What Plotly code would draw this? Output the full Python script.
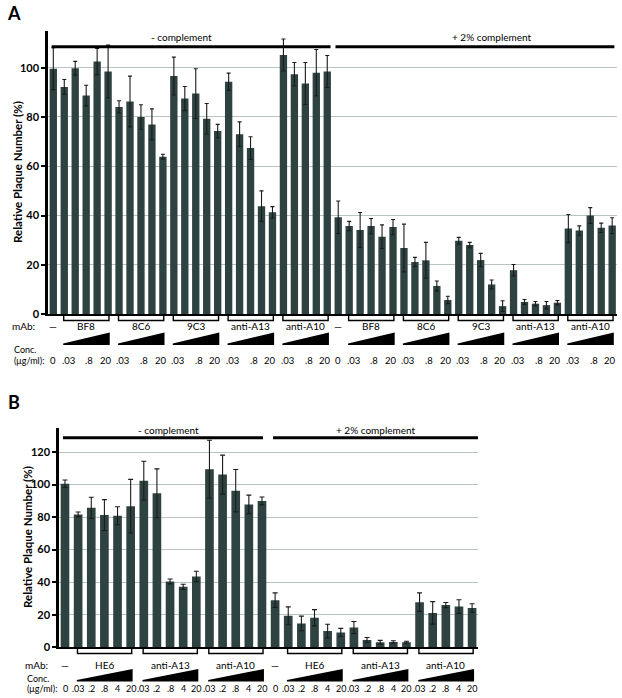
import plotly.graph_objects as go

W, H = 622, 698

# ---------------- data ----------------
# Panel A: control + 5 antibodies x 5 concentrations, without / with complement
A_groups = ["BF8", "8C6", "9C3", "anti-A13", "anti-A10"]
A_conc_labels = [".03", ".8", "20"]          # shown under 1st, 3rd, 5th bar
A_minus = [99.6, 92.2, 99.8, 88.7, 102.5, 98.5,
           84.1, 86.3, 80.0, 77.0, 63.9,
           96.6, 87.5, 89.5, 79.3, 74.3,
           94.3, 73.0, 67.4, 43.8, 41.3,
           105.2, 97.4, 93.6, 98.0, 98.5]
A_minus_err = [8.5, 3.0, 2.8, 4.2, 5.3, 10.7,
               2.5, 10.3, 5.0, 6.3, 1.0,
               7.7, 4.9, 10.1, 6.2, 2.7,
               3.5, 5.0, 4.6, 6.2, 2.3,
               6.5, 4.7, 8.5, 9.4, 6.5]
A_plus = [39.3, 35.7, 34.1, 35.7, 31.4, 35.3,
          26.8, 21.1, 21.8, 11.4, 5.7,
          29.7, 28.0, 21.9, 12.0, 3.2,
          17.8, 4.9, 4.2, 3.6, 4.6,
          34.7, 33.9, 40.0, 35.0, 35.9]
A_plus_err = [6.6, 1.9, 7.1, 3.1, 4.8, 3.1,
              9.7, 1.9, 7.3, 2.0, 1.5,
              1.4, 1.1, 2.7, 1.8, 2.2,
              2.3, 1.0, 0.9, 1.5, 0.9,
              5.7, 1.9, 3.2, 1.9, 3.2]
A_yticks = [0, 20, 40, 60, 80, 100]

# Panel B
B_groups = ["HE6", "anti-A13", "anti-A10"]
B_conc_labels = [".03", ".2", ".8", "4", "20"]
B_minus = [100.5, 81.6, 85.7, 81.2, 80.8, 86.7,
           102.3, 94.6, 40.4, 37.1, 43.5,
           109.4, 106.1, 96.2, 87.8, 89.9]
B_minus_err = [2.3, 1.5, 6.5, 9.5, 5.5, 16.5,
               12.0, 15.0, 1.5, 1.6, 3.2,
               17.8, 12.0, 13.0, 5.7, 2.4]
B_plus = [28.9, 19.3, 14.6, 18.1, 9.9, 9.1,
          12.1, 4.5, 3.0, 3.2, 3.1,
          27.7, 21.1, 25.9, 25.0, 24.1]
B_plus_err = [4.5, 5.5, 4.5, 5.0, 4.2, 2.5,
              3.7, 1.5, 1.2, 0.8, 0.6,
              5.7, 6.9, 1.6, 4.2, 2.6]
B_yticks = [0, 20, 40, 60, 80, 100, 120]

cond_labels = ["- complement", "+ 2% complement"]
control_label = "\u2014"
conc_zero = "0"
ytitle = "Relative Plaque Number (%)"

# ---------------- style ----------------
FONT = "Lato"
BAR = "#2e4341"
ERR = "#1b1b1b"
GRID = "#b9c4c0"


def py(p):
    return 1 - p / H


def px(p):
    return p / W


fig = go.Figure()

A_y = A_minus + A_plus
A_e = A_minus_err + A_plus_err
fig.add_trace(go.Bar(
    x=list(range(len(A_y))), y=A_y,
    error_y=dict(type="data", array=A_e, color=ERR, thickness=1.1, width=2),
    marker=dict(color=BAR, line=dict(width=0)), width=0.67,
    xaxis="x", yaxis="y", showlegend=False, hoverinfo="skip"))

B_y = B_minus + B_plus
B_e = B_minus_err + B_plus_err
fig.add_trace(go.Bar(
    x=list(range(len(B_y))), y=B_y,
    error_y=dict(type="data", array=B_e, color=ERR, thickness=1.1, width=2.5),
    marker=dict(color=BAR, line=dict(width=0)), width=0.66,
    xaxis="x2", yaxis="y2", showlegend=False, hoverinfo="skip"))

# panel geometry (pixels)
PA = dict(x0=48, x1=617, y0=314, ytop=30.8, ymax=115, xr=[-0.484, 51.44])
PB = dict(x0=59, x1=478, y0=647.2, ytop=427.6, ymax=135, xr=[-0.457, 31.45])

axis_common = dict(showline=True, linecolor="black", zeroline=False, automargin=False)
fig.update_layout(
    width=W, height=H, margin=dict(l=0, r=0, t=0, b=0, autoexpand=False),
    paper_bgcolor="white", plot_bgcolor="white",
    font=dict(family=FONT, color="black"),
    xaxis=dict(domain=[px(PA["x0"]), px(PA["x1"])], range=PA["xr"], anchor="y",
               showticklabels=False, ticks="", showgrid=False, linewidth=1.5,
               **axis_common),
    yaxis=dict(domain=[py(PA["y0"]), py(PA["ytop"])], range=[0, PA["ymax"]], anchor="x",
               tickvals=A_yticks, ticks="outside", ticklen=4, tickwidth=1.5, tickcolor="black",
               tickfont=dict(size=11, weight="bold", family=FONT), linewidth=2.5,
               showgrid=True, gridcolor=GRID, gridwidth=1, **axis_common),
    xaxis2=dict(domain=[px(PB["x0"]), px(PB["x1"])], range=PB["xr"], anchor="y2",
                showticklabels=False, ticks="", showgrid=False, linewidth=1.5,
                **axis_common),
    yaxis2=dict(domain=[py(PB["y0"]), py(PB["ytop"])], range=[0, PB["ymax"]], anchor="x2",
                tickvals=B_yticks, ticks="outside", ticklen=4, tickwidth=1.5, tickcolor="black",
                tickfont=dict(size=11, weight="bold", family=FONT), linewidth=2.5,
                showgrid=True, gridcolor=GRID, gridwidth=1, **axis_common),
)

shapes = []
ann = []


def text(x, y, s, xref, size=10, bold=False, xanchor="center", angle=0):
    ann.append(dict(x=x, y=py(y), xref=xref, yref="paper", text=s, showarrow=False,
                    xanchor=xanchor, yanchor="middle", textangle=angle,
                    font=dict(size=size, family=FONT, color="black",
                              weight="bold" if bold else "normal")))


def build_panel(xref, groups, n_per, conc_labels, conc_pos, geo, cond_lines,
                cond_text, y_cond_line, y_cond_text, y_br, y_mab, y_wtop, y_wbase,
                y_conc1, y_conc2, x_left, x_mab, letter, letter_xy, title_xy,
                conc_size):
    half = 1 + len(groups) * n_per
    # condition lines + text
    for (a, b), (tx, s) in zip(cond_lines, zip(cond_text, cond_labels)):
        shapes.append(dict(type="line", xref=xref, yref="paper", x0=a, x1=b,
                           y0=py(y_cond_line), y1=py(y_cond_line),
                           line=dict(color="black", width=3)))
        text(tx, y_cond_text, s, xref, size=10)
    text(x_mab, y_mab, "mAb:", "paper", size=10, xanchor="right")
    text(x_left, y_conc1, "Conc.", "paper", size=9, xanchor="left")
    text(x_left, y_conc2, "(\u03bcg/ml):", "paper", size=9, xanchor="left")
    for h in range(2):
        base = h * half
        text(base, y_mab, control_label, xref, size=10)
        text(base, y_conc2, conc_zero, xref, size=conc_size)
        for g, name in enumerate(groups):
            first = base + 1 + g * n_per
            last = first + n_per - 1
            # bracket
            shapes.append(dict(type="path", xref=xref, yref="paper",
                               path=f"M {first - 0.05},{py(geo['y0'] + 1)} L {first - 0.05},{py(y_br)} "
                                    f"L {last + 0.08},{py(y_br)} L {last + 0.08},{py(geo['y0'] + 1)}",
                               line=dict(color="black", width=1.4)))
            text((first + last) / 2, y_mab, name, xref, size=10)
            # concentration wedge
            shapes.append(dict(type="path", xref=xref, yref="paper",
                               path=f"M {first - 0.1},{py(y_wbase)} L {last + 0.15},{py(y_wbase)} "
                                    f"L {last + 0.15},{py(y_wtop)} L {first - 0.1},{py(y_wbase - 1.5)} Z",
                               fillcolor="black", line=dict(width=0)))
            for lab, p in zip(conc_labels, conc_pos):
                text(first + p, y_conc2, lab, xref, size=conc_size)
    # panel letter and y title
    text(letter_xy[0], letter_xy[1], letter, "paper", size=18, bold=True)
    text(title_xy[0], title_xy[1], ytitle, "paper", size=11.5, bold=True, angle=-90)


build_panel("x", A_groups, 5, A_conc_labels, [0.35, 2.3, 3.8], PA,
            cond_lines=[(-0.15, 25.3), (25.75, 51.2)], cond_text=[11.7, 40.0],
            y_cond_line=46.7, y_cond_text=37, y_br=320.5, y_mab=326,
            y_wtop=332.5, y_wbase=345, y_conc1=349.5, y_conc2=360,
            x_left=px(12), x_mab=px(37), letter="A", letter_xy=(px(14), 13),
            title_xy=(px(18), 172), conc_size=9.5)

build_panel("x2", B_groups, 5, B_conc_labels, [0, 1, 2, 3, 4], PB,
            cond_lines=[(-0.15, 15.08), (15.84, 31.45)], cond_text=[7.9, 23.7],
            y_cond_line=437.7, y_cond_text=430, y_br=653.5, y_mab=665,
            y_wtop=669, y_wbase=681.5, y_conc1=678, y_conc2=688.5,
            x_left=px(25), x_mab=px(50), letter="B", letter_xy=(px(14), 402),
            title_xy=(px(27), 537), conc_size=9)

fig.update_layout(shapes=shapes, annotations=ann)
fig.write_html(
    "out.html",
    config={"displayModeBar": False},
    post_script="document.body.style.margin='0px';document.body.style.overflow='hidden';",
)
